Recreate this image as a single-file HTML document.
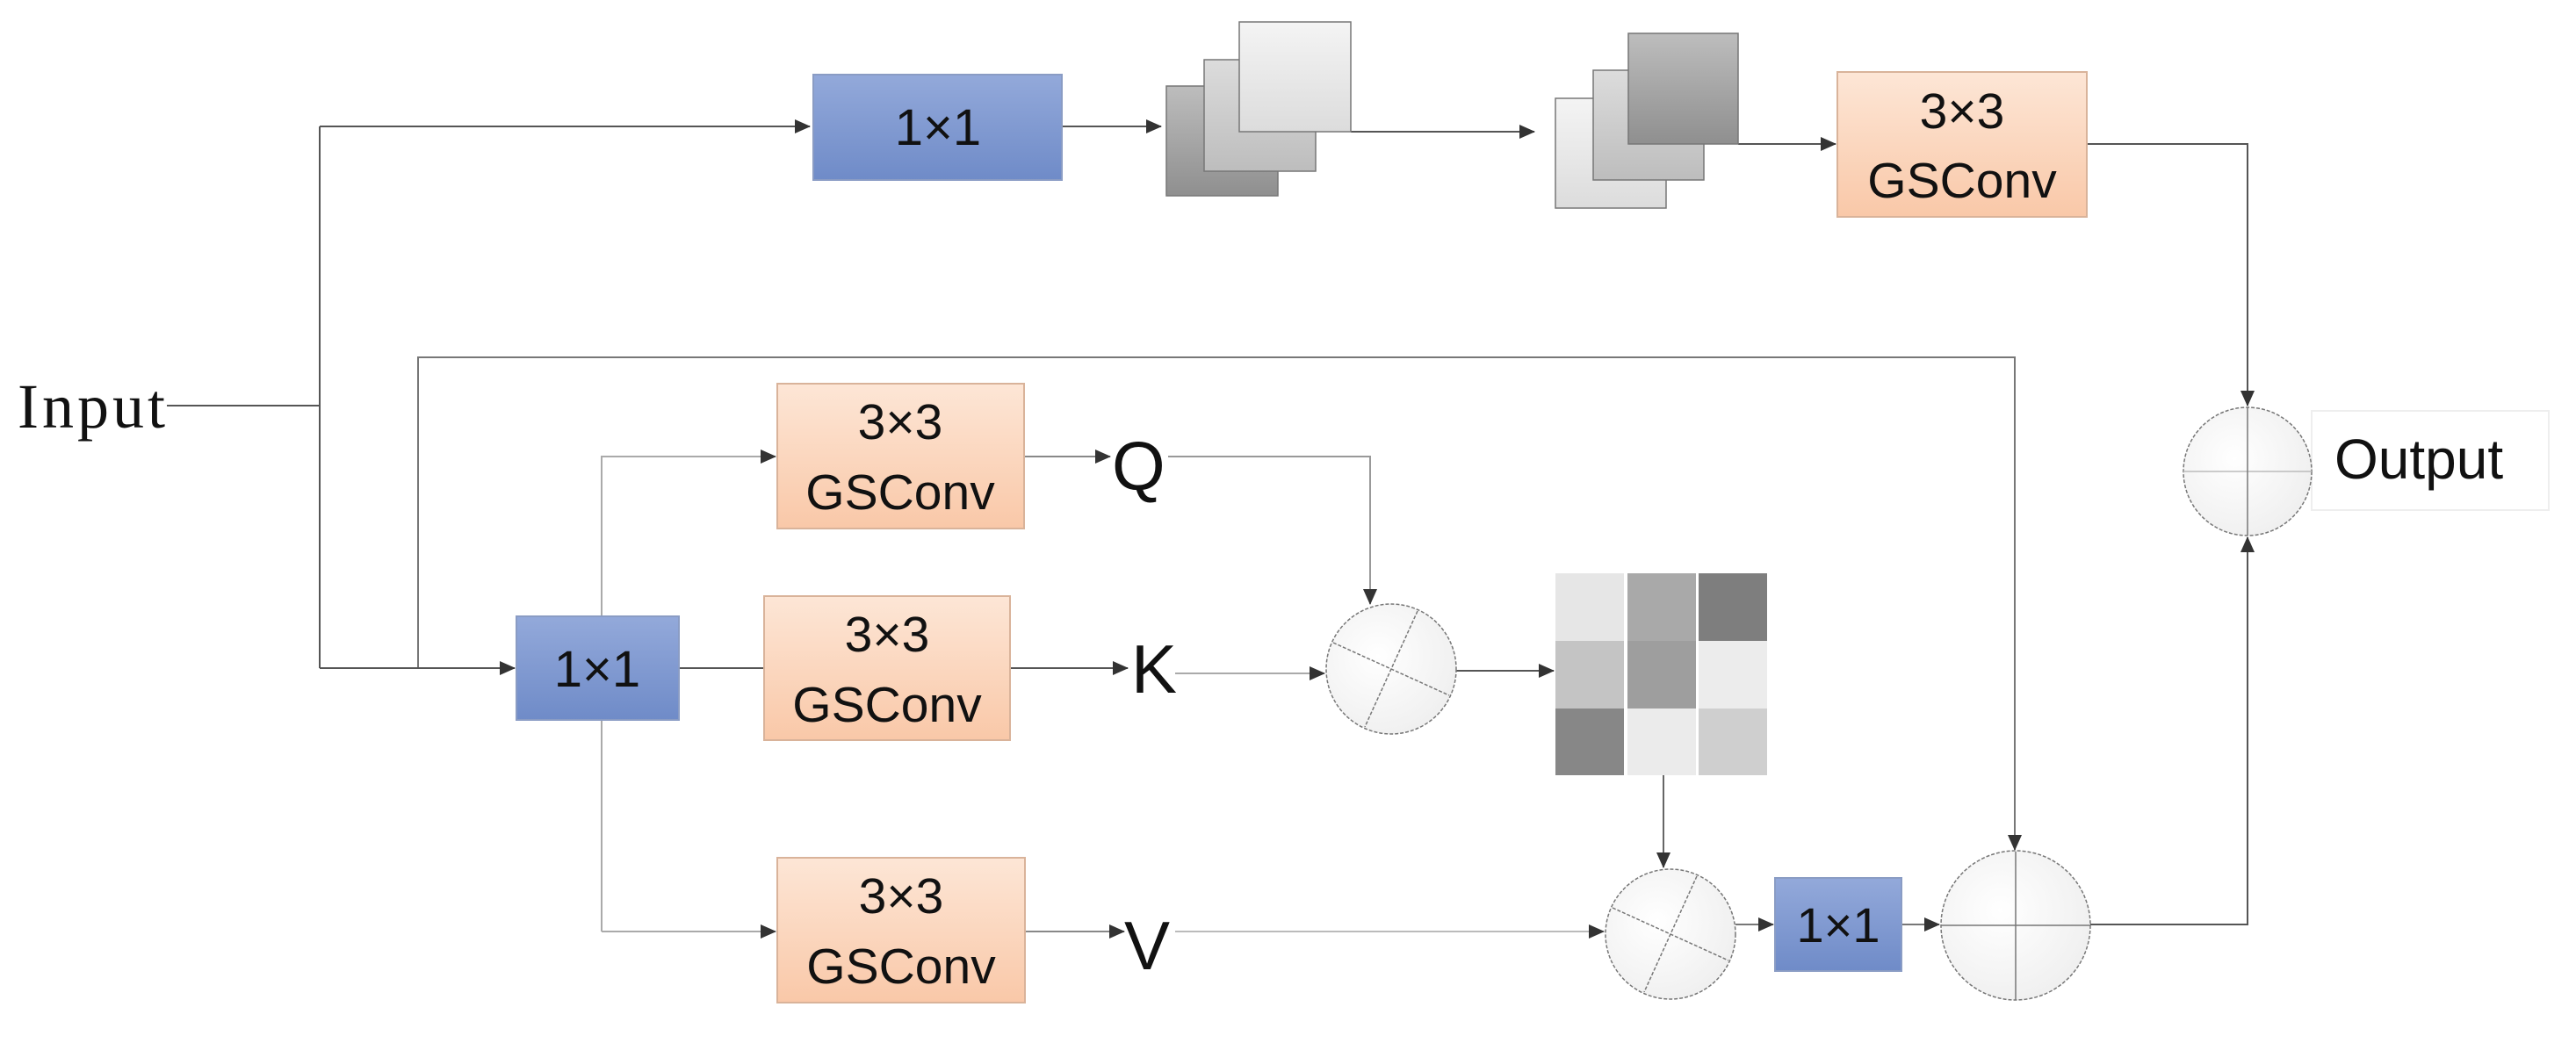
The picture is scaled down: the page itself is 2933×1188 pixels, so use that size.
<!DOCTYPE html>
<html><head><meta charset="utf-8"><style>
html,body{margin:0;padding:0;background:#fff;}
svg{display:block;}
text{font-family:"Liberation Sans",sans-serif;fill:#111;}
</style></head><body>
<svg width="2933" height="1188" viewBox="0 0 2933 1188" xmlns="http://www.w3.org/2000/svg">
<defs>
<linearGradient id="blue" x1="0" y1="0" x2="0" y2="1"><stop offset="0" stop-color="#93a9da"/><stop offset="1" stop-color="#6f8bc8"/></linearGradient>
<linearGradient id="org" x1="0" y1="0" x2="0" y2="1"><stop offset="0" stop-color="#fde6d6"/><stop offset="1" stop-color="#f9c8a8"/></linearGradient>
<linearGradient id="c1" x1="0" y1="0" x2="0" y2="1"><stop offset="0" stop-color="#f4f4f4"/><stop offset="1" stop-color="#dcdcdc"/></linearGradient>
<linearGradient id="c2" x1="0" y1="0" x2="0" y2="1"><stop offset="0" stop-color="#dcdcdc"/><stop offset="1" stop-color="#bdbdbd"/></linearGradient>
<linearGradient id="c3" x1="0" y1="0" x2="0" y2="1"><stop offset="0" stop-color="#bdbdbd"/><stop offset="1" stop-color="#8f8f8f"/></linearGradient>
<radialGradient id="cg" cx="0.4" cy="0.4" r="0.7"><stop offset="0" stop-color="#ffffff"/><stop offset="1" stop-color="#eeeeee"/></radialGradient>
<marker id="ar" markerWidth="10" markerHeight="10" refX="9" refY="5" orient="auto" markerUnits="userSpaceOnUse" viewBox="0 0 10 10"><path d="M0,0 L10,5 L0,10 z" fill="#333"/></marker>
<marker id="arb" markerWidth="18" markerHeight="16" refX="17" refY="8" orient="auto" markerUnits="userSpaceOnUse"><path d="M0,0 L18,8 L0,16 z" fill="#333"/></marker>
</defs>
<g fill="none" stroke="#555" stroke-width="2">
<!-- input lines -->
<line x1="190" y1="462" x2="364" y2="462"/>
<line x1="364" y1="144" x2="364" y2="761"/>
<line x1="364" y1="144" x2="922" y2="144" marker-end="url(#arb)"/>
<line x1="1209" y1="144" x2="1322" y2="144" marker-end="url(#arb)"/>
<line x1="1538" y1="150" x2="1747" y2="150" marker-end="url(#arb)"/>
<line x1="1979" y1="164" x2="2090" y2="164" marker-end="url(#arb)"/>
<polyline points="2376,164 2559,164 2559,462" marker-end="url(#arb)"/>
<polyline points="2380,1053 2559,1053 2559,612" marker-end="url(#arb)"/>
<!-- skip -->
<polyline points="476,761 476,407 2294,407 2294,968" marker-end="url(#arb)" stroke="#777"/>
<line x1="364" y1="761" x2="586" y2="761" marker-end="url(#arb)"/>
<line x1="773" y1="761" x2="870" y2="761"/>
<polyline points="685,1061 685,520 883,520" marker-end="url(#arb)" stroke="#aaa"/>
<line x1="685" y1="1061" x2="883" y2="1061" marker-end="url(#arb)" stroke="#aaa"/>
<line x1="1166" y1="520" x2="1264" y2="520" marker-end="url(#arb)" stroke="#888"/>
<line x1="1150" y1="761" x2="1284" y2="761" marker-end="url(#arb)"/>
<line x1="1167" y1="1061" x2="1280" y2="1061" marker-end="url(#arb)" stroke="#888"/>
<polyline points="1330,520 1560,520 1560,688" marker-end="url(#arb)" stroke="#999"/>
<line x1="1338" y1="767" x2="1508" y2="767" marker-end="url(#arb)" stroke="#aaa"/>
<line x1="1658" y1="764" x2="1769" y2="764" marker-end="url(#arb)"/>
<line x1="1894" y1="883" x2="1894" y2="988" marker-end="url(#arb)" stroke="#666"/>
<line x1="1338" y1="1061" x2="1826" y2="1061" marker-end="url(#arb)" stroke="#bbb"/>
<line x1="1976" y1="1053" x2="2019" y2="1053" marker-end="url(#arb)" stroke="#777"/>
<line x1="2165" y1="1053" x2="2208" y2="1053" marker-end="url(#arb)" stroke="#777"/>
</g>
<!-- stacks -->
<g stroke="#777" stroke-width="1.5">
<rect x="1328" y="98" width="127" height="125" fill="url(#c3)"/>
<rect x="1371" y="68" width="127" height="127" fill="url(#c2)"/>
<rect x="1411" y="25" width="127" height="125" fill="url(#c1)"/>
<rect x="1771" y="112" width="126" height="125" fill="url(#c1)"/>
<rect x="1814" y="80" width="126" height="125" fill="url(#c2)"/>
<rect x="1854" y="38" width="125" height="126" fill="url(#c3)"/>
</g>
<!-- matrix -->
<g>
<rect x="1771" y="653" width="78" height="77" fill="#e6e6e6"/>
<rect x="1771" y="730" width="78" height="77" fill="#c4c4c4"/>
<rect x="1771" y="807" width="78" height="76" fill="#878787"/>
<rect x="1853" y="653" width="78" height="77" fill="#a9a9a9"/>
<rect x="1853" y="730" width="78" height="77" fill="#9e9e9e"/>
<rect x="1853" y="807" width="78" height="76" fill="#ebebeb"/>
<rect x="1934" y="653" width="78" height="77" fill="#7e7e7e"/>
<rect x="1934" y="730" width="78" height="77" fill="#ececec"/>
<rect x="1934" y="807" width="78" height="76" fill="#cfcfcf"/>
</g>
<!-- boxes -->
<g stroke="#8a9cc4" stroke-width="2">
<rect x="926" y="85" width="283" height="120" fill="url(#blue)"/>
<rect x="588" y="702" width="185" height="118" fill="url(#blue)"/>
<rect x="2021" y="1000" width="144" height="106" fill="url(#blue)"/>
</g>
<g stroke="#d9b39a" stroke-width="2">
<rect x="2092" y="82" width="284" height="165" fill="url(#org)"/>
<rect x="885" y="437" width="281" height="165" fill="url(#org)"/>
<rect x="870" y="679" width="280" height="164" fill="url(#org)"/>
<rect x="885" y="977" width="282" height="165" fill="url(#org)"/>
</g>
<!-- circles -->
<rect x="2632" y="468" width="270" height="113" fill="#fff" stroke="#eee" stroke-width="2"/>
<g stroke="#777" stroke-width="1.5" stroke-dasharray="4,2" fill="url(#cg)">
<circle cx="2559" cy="537" r="73"/>
<circle cx="1584" cy="762" r="74"/>
<circle cx="1902" cy="1064" r="74"/>
<circle cx="2295" cy="1054" r="85"/>
</g>
<g stroke="#777" stroke-width="1.5">
<line x1="2486" y1="537" x2="2632" y2="537" stroke="#bbb"/>
<line x1="2559" y1="464" x2="2559" y2="610"/>
<line x1="2210" y1="1054" x2="2380" y2="1054"/>
<line x1="2295" y1="970" x2="2295" y2="1139"/>
<g stroke-dasharray="4,2">
<line x1="1518" y1="732" x2="1650" y2="792"/><line x1="1614" y1="696" x2="1554" y2="828"/>
<line x1="1836" y1="1034" x2="1968" y2="1094"/><line x1="1932" y1="998" x2="1872" y2="1130"/>
</g>
</g>
<!-- text -->
<text x="1068" y="165" font-size="58" text-anchor="middle">1×1</text>
<text x="680" y="782" font-size="58" text-anchor="middle">1×1</text>
<text x="2093" y="1073" font-size="56" text-anchor="middle">1×1</text>
<g font-size="57" text-anchor="middle">
<text x="2234" y="146">3×3</text><text x="2234" y="225">GSConv</text>
<text x="1025" y="500">3×3</text><text x="1025" y="580">GSConv</text>
<text x="1010" y="742">3×3</text><text x="1010" y="822">GSConv</text>
<text x="1026" y="1040">3×3</text><text x="1026" y="1120">GSConv</text>
</g>
<g font-size="78">
<text x="1266" y="558">Q</text>
<text x="1288" y="789">K</text>
<text x="1280" y="1104">V</text>
</g>
<text x="2658" y="545" font-size="64">Output</text>
<text x="20" y="487" font-size="72" letter-spacing="4" style="font-family:'Liberation Serif',serif">Input</text>
</svg>
</body></html>
